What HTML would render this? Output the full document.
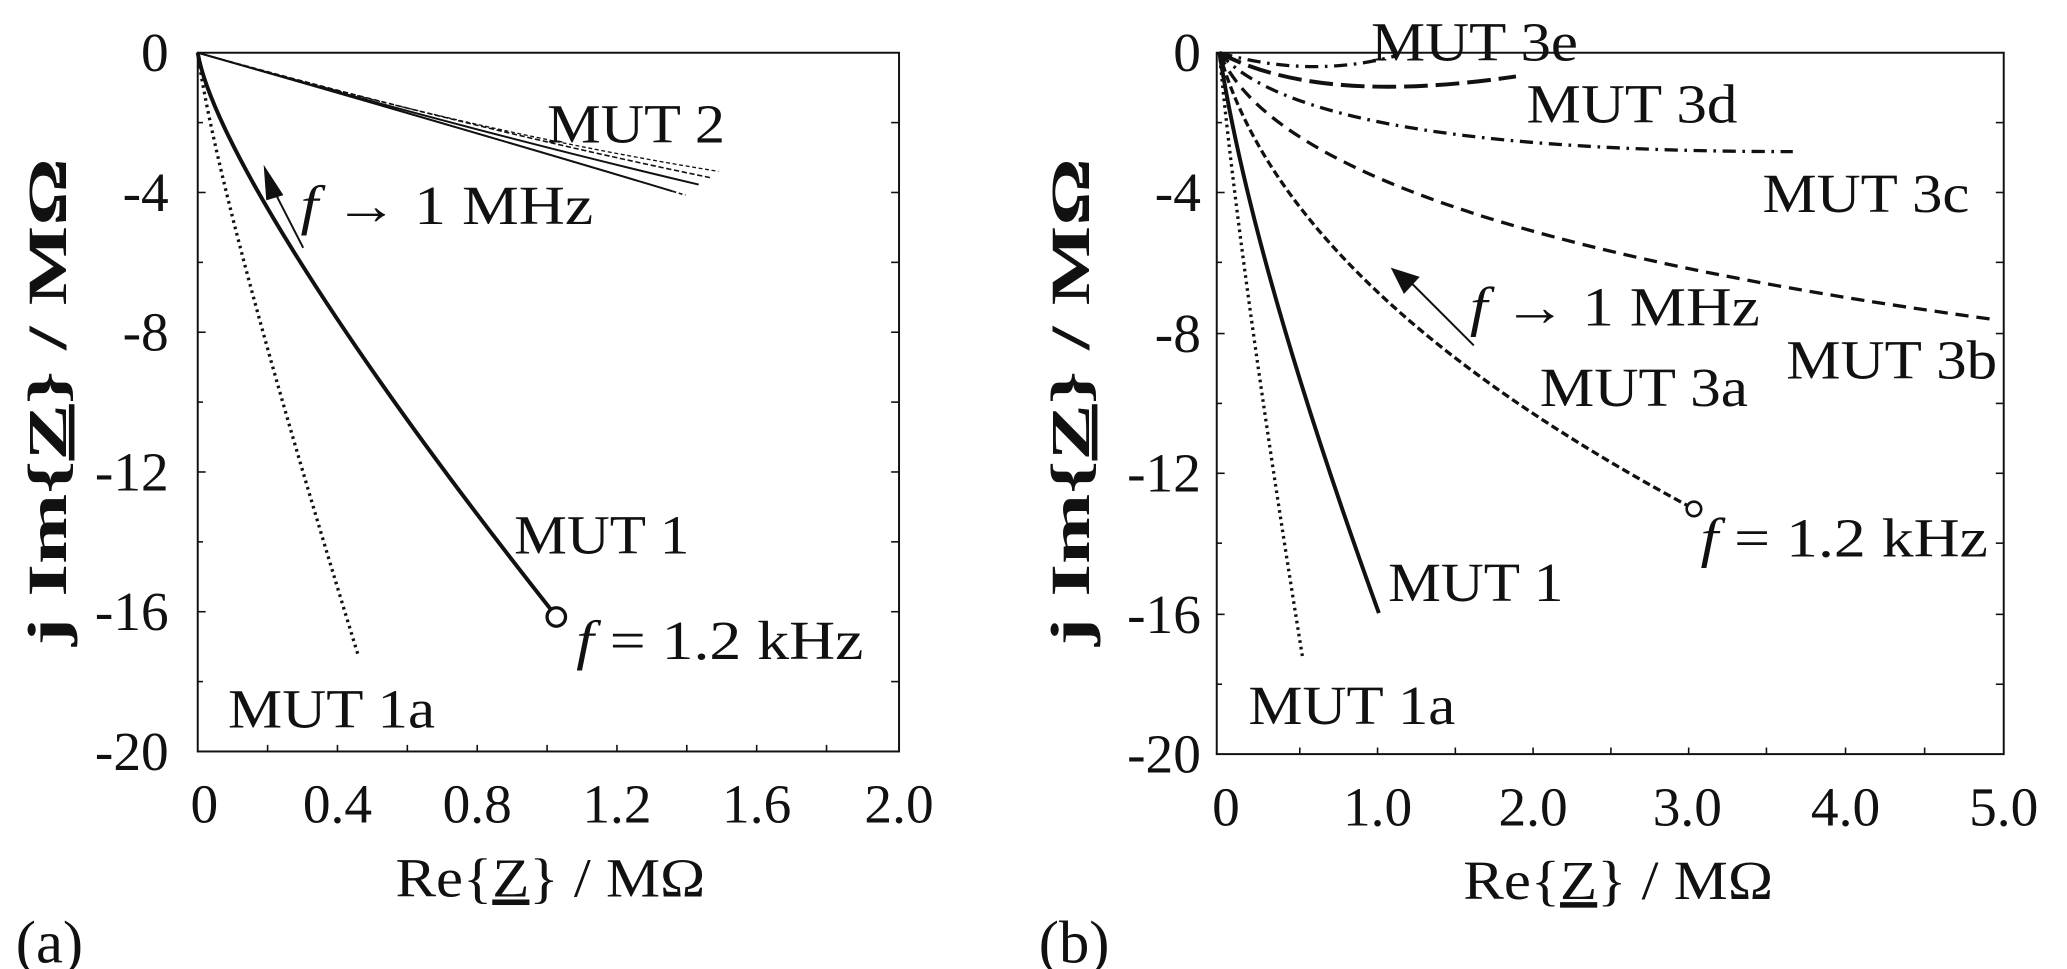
<!DOCTYPE html>
<html><head><meta charset="utf-8"><style>
html,body{margin:0;padding:0;background:#fff;}
svg{display:block;}
text{font-family:"Liberation Serif",serif;fill:#111;}
</style></head><body>
<svg width="2067" height="969" viewBox="0 0 1568 735" preserveAspectRatio="none" xmlns="http://www.w3.org/2000/svg">
<g fill="none" stroke="#111">
<rect x="150" y="40" width="532" height="530" stroke-width="1.5"/>
<g stroke-width="1.2">
<line x1="150" y1="146" x2="156" y2="146"/><line x1="150" y1="252" x2="156" y2="252"/><line x1="150" y1="358" x2="156" y2="358"/><line x1="150" y1="464" x2="156" y2="464"/>
<line x1="150" y1="93" x2="154" y2="93"/><line x1="150" y1="199" x2="154" y2="199"/><line x1="150" y1="305" x2="154" y2="305"/><line x1="150" y1="411" x2="154" y2="411"/><line x1="150" y1="517" x2="154" y2="517"/>
<line x1="676" y1="93" x2="682" y2="93"/><line x1="676" y1="146" x2="682" y2="146"/><line x1="676" y1="199" x2="682" y2="199"/><line x1="676" y1="252" x2="682" y2="252"/><line x1="676" y1="305" x2="682" y2="305"/><line x1="676" y1="358" x2="682" y2="358"/><line x1="676" y1="411" x2="682" y2="411"/><line x1="676" y1="464" x2="682" y2="464"/><line x1="676" y1="517" x2="682" y2="517"/>
<line x1="203" y1="570" x2="203" y2="565"/><line x1="256" y1="570" x2="256" y2="565"/><line x1="309" y1="570" x2="309" y2="565"/><line x1="362" y1="570" x2="362" y2="565"/><line x1="415" y1="570" x2="415" y2="565"/><line x1="468" y1="570" x2="468" y2="565"/><line x1="521" y1="570" x2="521" y2="565"/><line x1="574" y1="570" x2="574" y2="565"/><line x1="627" y1="570" x2="627" y2="565"/>
</g>
<path d="M150,40 C160,100 250,250 420,465" stroke-width="3"/>
<path d="M150,40 Q165,150 272,498" stroke-width="2.5" stroke-dasharray="2,3"/>
<path d="M150,40 Q360,100 530,140" stroke-width="1.5"/>
<path d="M150,40 Q360,100 520,148" stroke-width="1.2" stroke-dasharray="3,2"/>
<path d="M150,40 Q360,98 540,135" stroke-width="1.2" stroke-dasharray="4,2"/>
<path d="M150,40 Q360,100 510,145" stroke-width="1.5"/>
<path d="M150,40 Q360,100 545,130" stroke-width="1" stroke-dasharray="3,2"/>
<circle cx="422" cy="468" r="7" stroke-width="2.5" fill="#fff"/>
<line x1="230" y1="188" x2="208" y2="145" stroke-width="1.5"/>
<rect x="923" y="40" width="597" height="532" stroke-width="1.5"/>
<g stroke-width="1.2">
<line x1="923" y1="146" x2="929" y2="146"/><line x1="923" y1="253" x2="929" y2="253"/><line x1="923" y1="359" x2="929" y2="359"/><line x1="923" y1="466" x2="929" y2="466"/>
<line x1="923" y1="93" x2="927" y2="93"/><line x1="923" y1="199" x2="927" y2="199"/><line x1="923" y1="306" x2="927" y2="306"/><line x1="923" y1="412" x2="927" y2="412"/><line x1="923" y1="519" x2="927" y2="519"/>
<line x1="1514" y1="93" x2="1520" y2="93"/><line x1="1514" y1="146" x2="1520" y2="146"/><line x1="1514" y1="199" x2="1520" y2="199"/><line x1="1514" y1="253" x2="1520" y2="253"/><line x1="1514" y1="306" x2="1520" y2="306"/><line x1="1514" y1="359" x2="1520" y2="359"/><line x1="1514" y1="412" x2="1520" y2="412"/><line x1="1514" y1="466" x2="1520" y2="466"/><line x1="1514" y1="519" x2="1520" y2="519"/>
<line x1="986" y1="572" x2="986" y2="567"/><line x1="1045" y1="572" x2="1045" y2="567"/><line x1="1104" y1="572" x2="1104" y2="567"/><line x1="1163" y1="572" x2="1163" y2="567"/><line x1="1222" y1="572" x2="1222" y2="567"/><line x1="1281" y1="572" x2="1281" y2="567"/><line x1="1340" y1="572" x2="1340" y2="567"/><line x1="1400" y1="572" x2="1400" y2="567"/><line x1="1460" y1="572" x2="1460" y2="567"/>
</g>
<path d="M925,40 Q950,200 1046,465" stroke-width="3"/>
<path d="M925,40 Q940,200 988,498" stroke-width="2.5" stroke-dasharray="2,3"/>
<path d="M925,40 Q975,220 1283,385" stroke-width="2.5" stroke-dasharray="6,3"/>
<path d="M925,40 Q980,170 1510,242" stroke-width="2.5" stroke-dasharray="10,6"/>
<path d="M925,40 Q990,115 1360,115" stroke-width="2.5" stroke-dasharray="10,5,2,5"/>
<path d="M925,40 Q1000,80 1150,58" stroke-width="3" stroke-dasharray="18,6"/>
<path d="M925,40 Q995,60 1060,42" stroke-width="2.5" stroke-dasharray="10,5,2,5"/>
<circle cx="1285" cy="386" r="5.5" stroke-width="2" fill="#fff"/>
<line x1="1118" y1="262" x2="1068" y2="212" stroke-width="1.5"/>
</g>
<polygon points="200,125 215,148 202,152" fill="#111"/>
<polygon points="1055,203 1077,210 1065,223" fill="#111"/>
<g font-size="42">
<text x="128" y="54" text-anchor="end">0</text>
<text x="128" y="160" text-anchor="end">-4</text>
<text x="128" y="266" text-anchor="end">-8</text>
<text x="128" y="372" text-anchor="end">-12</text>
<text x="128" y="478" text-anchor="end">-16</text>
<text x="128" y="584" text-anchor="end">-20</text>
<text x="155" y="624" text-anchor="middle">0</text>
<text x="256" y="624" text-anchor="middle">0.4</text>
<text x="362" y="624" text-anchor="middle">0.8</text>
<text x="468" y="624" text-anchor="middle">1.2</text>
<text x="574" y="624" text-anchor="middle">1.6</text>
<text x="682" y="624" text-anchor="middle">2.0</text>
<text x="300" y="680" textLength="235" lengthAdjust="spacingAndGlyphs">Re{<tspan text-decoration="underline">Z</tspan>} / MΩ</text>
<text x="12" y="730" font-size="46">(a)</text>
<text x="415" y="108" textLength="135" lengthAdjust="spacingAndGlyphs">MUT 2</text>
<text x="228" y="170" textLength="222" lengthAdjust="spacingAndGlyphs"><tspan font-style="italic">f</tspan> → 1 MHz</text>
<text x="390" y="420" textLength="133" lengthAdjust="spacingAndGlyphs">MUT 1</text>
<text x="437" y="500" textLength="218" lengthAdjust="spacingAndGlyphs"><tspan font-style="italic">f</tspan> = 1.2 kHz</text>
<text x="173" y="552" textLength="157" lengthAdjust="spacingAndGlyphs">MUT 1a</text>
<text transform="translate(50,305) rotate(-90)" x="-185" font-weight="bold" font-size="42" textLength="370" lengthAdjust="spacingAndGlyphs">j Im{<tspan text-decoration="underline">Z</tspan>} / MΩ</text>

<text x="911" y="54" text-anchor="end">0</text>
<text x="911" y="160" text-anchor="end">-4</text>
<text x="911" y="267" text-anchor="end">-8</text>
<text x="911" y="373" text-anchor="end">-12</text>
<text x="911" y="480" text-anchor="end">-16</text>
<text x="911" y="586" text-anchor="end">-20</text>
<text x="930" y="626" text-anchor="middle">0</text>
<text x="1045" y="626" text-anchor="middle">1.0</text>
<text x="1163" y="626" text-anchor="middle">2.0</text>
<text x="1280" y="626" text-anchor="middle">3.0</text>
<text x="1400" y="626" text-anchor="middle">4.0</text>
<text x="1520" y="626" text-anchor="middle">5.0</text>
<text x="1110" y="682" textLength="235" lengthAdjust="spacingAndGlyphs">Re{<tspan text-decoration="underline">Z</tspan>} / MΩ</text>
<text x="788" y="730" font-size="46">(b)</text>
<text x="1040" y="46" textLength="157" lengthAdjust="spacingAndGlyphs">MUT 3e</text>
<text x="1158" y="93" textLength="160" lengthAdjust="spacingAndGlyphs">MUT 3d</text>
<text x="1337" y="161" textLength="157" lengthAdjust="spacingAndGlyphs">MUT 3c</text>
<text x="1115" y="247" textLength="220" lengthAdjust="spacingAndGlyphs"><tspan font-style="italic">f</tspan> → 1 MHz</text>
<text x="1355" y="287" textLength="160" lengthAdjust="spacingAndGlyphs">MUT 3b</text>
<text x="1168" y="308" textLength="158" lengthAdjust="spacingAndGlyphs">MUT 3a</text>
<text x="1290" y="422" textLength="218" lengthAdjust="spacingAndGlyphs"><tspan font-style="italic">f</tspan> = 1.2 kHz</text>
<text x="1053" y="456" textLength="133" lengthAdjust="spacingAndGlyphs">MUT 1</text>
<text x="947" y="549" textLength="157" lengthAdjust="spacingAndGlyphs">MUT 1a</text>
<text transform="translate(826,305) rotate(-90)" x="-185" font-weight="bold" font-size="42" textLength="370" lengthAdjust="spacingAndGlyphs">j Im{<tspan text-decoration="underline">Z</tspan>} / MΩ</text>
</g>
</svg>
</body></html>
